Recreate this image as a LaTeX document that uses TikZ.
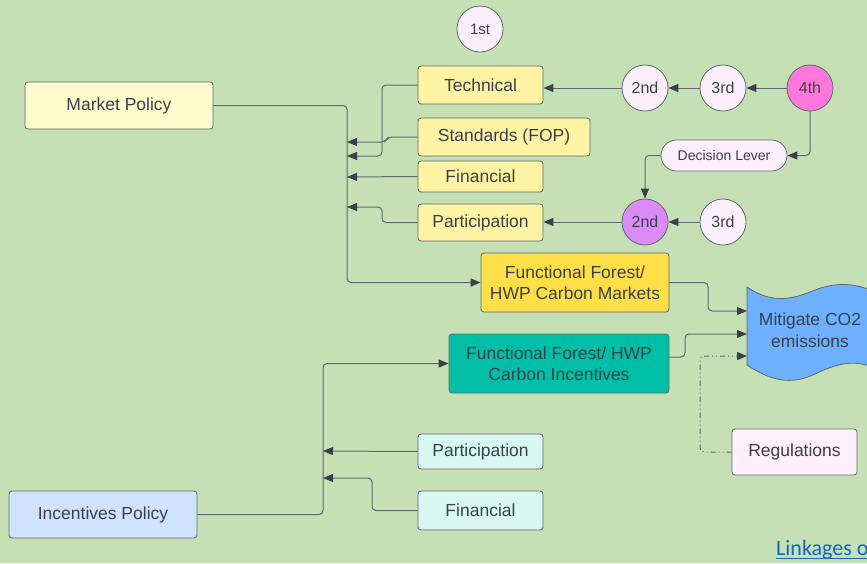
\documentclass[tikz,border=0pt]{standalone}
\usepackage{fontspec}
\setmainfont{Liberation Sans}
\newfontfamily\linkfont{Carlito}
\usetikzlibrary{arrows.meta,shapes.misc}
\definecolor{bg}{RGB}{197,224,181}
\definecolor{edge}{RGB}{95,106,110}
\definecolor{txt}{RGB}{58,65,74}
\definecolor{mpol}{RGB}{255,251,204}
\definecolor{ylw}{RGB}{255,244,163}
\definecolor{pinkc}{RGB}{253,238,251}
\definecolor{magc}{RGB}{255,119,221}
\definecolor{purc}{RGB}{218,139,247}
\definecolor{gold}{RGB}{255,223,71}
\definecolor{teal}{RGB}{0,191,166}
\definecolor{skyb}{RGB}{108,176,255}
\definecolor{regc}{RGB}{255,240,250}
\definecolor{cyanc}{RGB}{216,247,241}
\definecolor{ipol}{RGB}{207,226,255}
\definecolor{linkc}{RGB}{21,101,192}
\tikzset{
  box/.style={rectangle, rounded corners=3pt, draw=edge, line width=0.8pt, text=txt,
    inner sep=0pt, align=center, font=\fontsize{17.5}{21.5}\selectfont},
  circ/.style={circle, draw=edge, line width=0.8pt, text=txt, minimum size=46pt,
    inner sep=0pt, font=\fontsize{16}{19}\selectfont},
  conn/.style={draw=edge, line width=1pt, rounded corners=4pt,
    -{Triangle[length=10pt,width=8pt,fill=txt,color=txt]}},
}
\begin{document}
\begin{tikzpicture}[x=1pt,y=-1pt]
\fill[bg] (0,0) rectangle (867,563);
\useasboundingbox (0,0) rectangle (867,563);

% nodes
\node[circ, fill=pinkc, font=\fontsize{15}{18}\selectfont] (first) at (480,29) {1st};
\node[box, fill=mpol, minimum width=188pt, minimum height=47pt] (mp) at (119,105.5) {Market Policy};
\node[box, fill=ylw, minimum width=125pt, minimum height=38pt] (tech) at (480.5,85) {Technical};
\node[box, fill=ylw, minimum width=172pt, minimum height=38pt] (std) at (504,137) {Standards (FOP)};
\node[box, fill=ylw, minimum width=125pt, minimum height=31pt] (fin) at (480.5,176.5) {Financial};
\node[box, fill=ylw, minimum width=125pt, minimum height=37pt] (par) at (480.5,222.5) {Participation};
\node[circ, fill=pinkc] (s2) at (645,88) {2nd};
\node[circ, fill=pinkc] (s3) at (723,88) {3rd};
\node[circ, fill=magc] (s4) at (810,88) {4th};
\node[rounded rectangle, draw=edge, line width=0.8pt, fill=pinkc, text=txt,
      minimum width=126pt, minimum height=31pt, inner sep=0pt,
      font=\fontsize{14}{17}\selectfont] (dl) at (724,155.5) {Decision Lever};
\node[circ, fill=purc] (p2) at (645,222) {2nd};
\node[circ, fill=pinkc] (p3) at (723,222) {3rd};
\node[box, fill=gold, minimum width=188pt, minimum height=59pt] (cm) at (575,282.5)
  {Functional Forest/\\HWP Carbon Markets};
\node[box, fill=teal, minimum width=220pt, minimum height=59pt] (ci) at (559,363.5)
  {Functional Forest/ HWP\\Carbon Incentives};
\node[box, fill=regc, minimum width=125pt, minimum height=46pt] (reg) at (794.5,452) {Regulations};
\node[box, fill=cyanc, minimum width=125pt, minimum height=35pt] (bpar) at (480.5,451.5) {Participation};
\node[box, fill=cyanc, minimum width=125pt, minimum height=39pt] (bfin) at (480.5,510.5) {Financial};
\node[box, fill=ipol, minimum width=188pt, minimum height=47pt] (ip) at (103,514.5) {Incentives Policy};

% Mitigate CO2 wavy shape
\filldraw[fill=skyb, draw=edge, line width=0.8pt]
  (747,287) .. controls (770,303) and (790,300) .. (810,292)
  .. controls (835,281) and (855,283) .. (875,292)
  -- (875,368)
  .. controls (855,360) and (840,362) .. (815,374)
  .. controls (790,386) and (770,380) .. (747,365) -- cycle;
\node[text=txt, align=center, font=\fontsize{17.5}{21.5}\selectfont] (mit) at (810,330)
  {Mitigate CO2\\emissions};
\coordinate (mitA) at (747,311);
\coordinate (mitB) at (747,334);
\coordinate (mitC) at (747,356);

% trunk coordinates
\coordinate (t1) at (347,156);
\coordinate (t2) at (347,142);
\coordinate (t3) at (347,177);
\coordinate (t4) at (347,207);
\coordinate (b1) at (323,451);
\coordinate (b2) at (323,478);

% market policy trunk
\draw[conn] (mp.east) -- (347,105.5) -- (347,282.5) -- (cm.west);
\draw[conn] (tech.west) -- (382,85) -- (382,156) -- (t1);
\draw[conn] (std.west) -- (388,137) -- (385,142) -- (t2);
\draw[conn] (fin.west) -- (t3);
\draw[conn] (par.west) -- (382,222.5) -- (382,207) -- (t4);

% circles
\draw[conn] (s2.west) -- (s2.west -| tech.east);
\draw[conn] (s3.west) -- (s2.east);
\draw[conn] (s4.west) -- (s3.east);
\draw[conn] (s4.south) |- (dl.east);
\draw[conn] (dl.west) -| (p2.north);
\draw[conn] (p3.west) -- (p2.east);
\draw[conn] (p2.west) -- (p2.west -| par.east);

% to mitigate
\draw[conn] (cm.east) -- (708,282.5) -- (708,311) -- (mitA);
\draw[conn] (ci.east |- 0,357) -- (685,357) -- (685,334) -- (mitB);
\draw[conn, dash pattern=on 5pt off 3pt on 1pt off 3pt on 1pt off 3pt] (reg.west) -- (700,452) -- (700,356) -- (mitC);

% incentives
\draw[conn] (ip.east) -- (323,514.5) -- (323,363.5) -- (ci.west);
\draw[conn] (bpar.west) -- (b1);
\draw[conn] (bfin.west) -- (372,510.5) -- (372,478) -- (b2);

% link text
\node[anchor=base west, inner sep=0pt, text=linkc, font=\linkfont\fontsize{22}{26}\selectfont]
  (link) at (776,555) {Linkages o};
\draw[linkc, line width=1.2pt] (776,558.5) -- (870,558.5);
\end{tikzpicture}
\end{document}
